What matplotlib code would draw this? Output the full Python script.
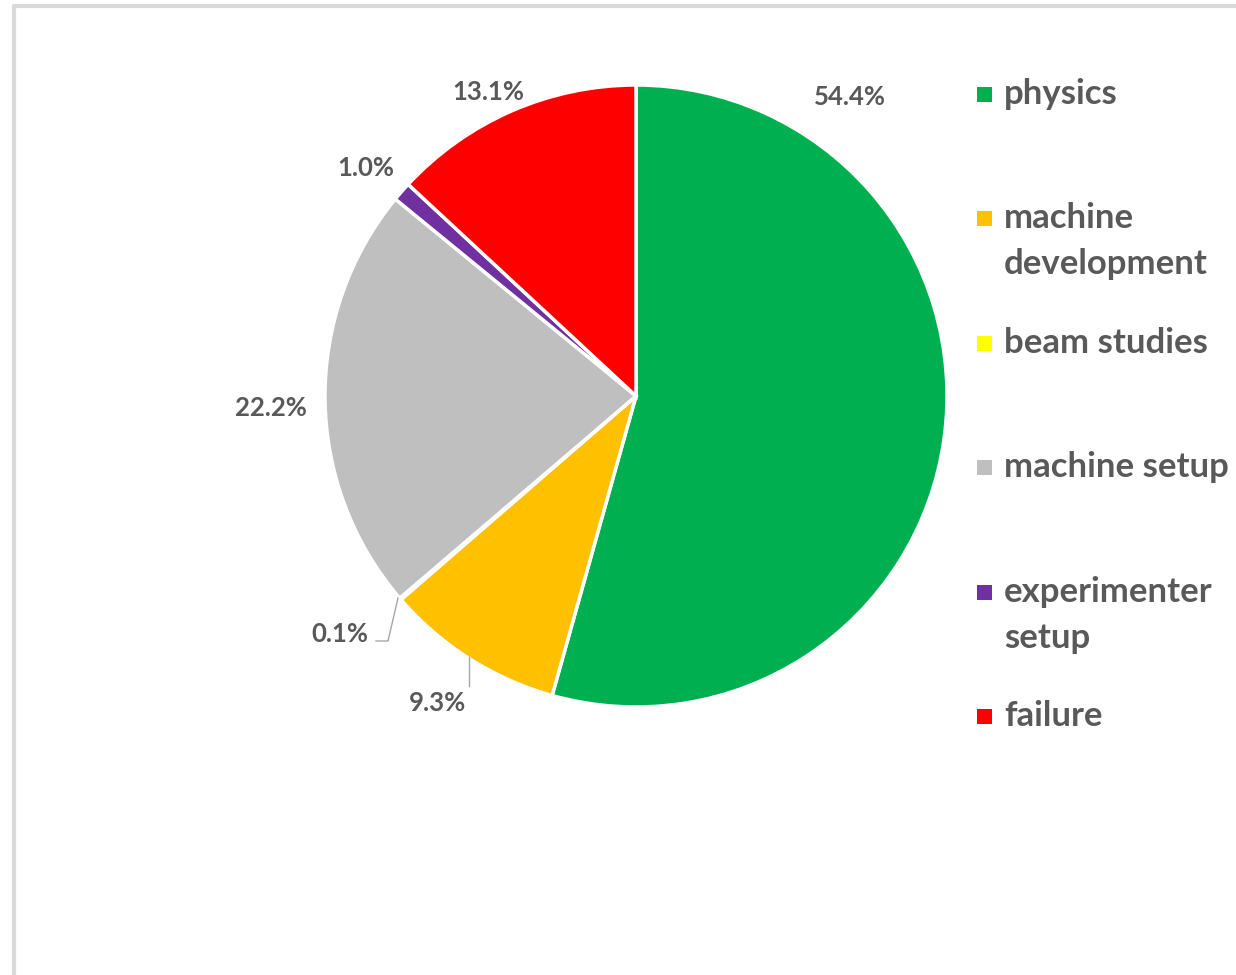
import matplotlib.pyplot as plt
from matplotlib.patches import Rectangle

plt.rcParams['font.family'] = ['Lato', 'DejaVu Sans']

# data
categories = ['physics', 'machine\ndevelopment', 'beam studies', 'machine setup',
              'experimenter\nsetup', 'failure']
shares = [54.4, 9.3, 0.1, 22.2, 1.0, 13.1]
colors = ['#00b050', '#ffc000', '#ffff00', '#bfbfbf', '#7030a0', '#ff0000']

W, H = 1236, 975
fig = plt.figure(figsize=(W / 100, H / 100), dpi=100)
ax = fig.add_axes([0, 0, 1, 1])
ax.axis('off')


def py(y):
    # pixel row (from top) -> data y
    return H - y


# outer frame of the screenshot
ax.plot([14, 14, W], [0, py(6), py(6)], color='#d9d9d9', lw=3, solid_capstyle='butt')

wedges, _ = ax.pie(shares, colors=colors, startangle=90, counterclock=False,
                   center=(636, py(396)), radius=311,
                   wedgeprops=dict(edgecolor='white', linewidth=2.5))
ax.set_xlim(0, W)
ax.set_ylim(0, H)
ax.set_aspect('equal')

txt_col = '#595959'
# label positions (pixels)
label_pos = [(850, 97), (438, 703), (340, 634), (271, 408), (366, 168), (488, 92)]
for v, (x, y) in zip(shares, label_pos):
    ax.text(x, py(y), f'{v:.1f}%', ha='center', va='center', fontsize=18.5,
            fontweight='bold', color=txt_col)

# leader lines
ax.plot([469, 469], [py(657), py(686)], color='#a6a6a6', lw=1)
ax.plot([398, 388, 376], [py(598), py(641), py(641)], color='#a6a6a6', lw=1)

# legend drawn by hand, first line level with the marker
leg_y = [94, 218, 343, 467, 592, 716]
for lab, c, y in zip(categories, colors, leg_y):
    ax.add_patch(Rectangle((977, py(y) - 7.5), 15, 15, facecolor=c, edgecolor='none'))
    for i, line in enumerate(lab.split('\n')):
        ax.text(1004, py(y + 10 + 46 * i), line, ha='left', va='baseline', fontsize=25,
                fontweight='bold', color=txt_col)

fig.savefig('out.png', dpi=100)
